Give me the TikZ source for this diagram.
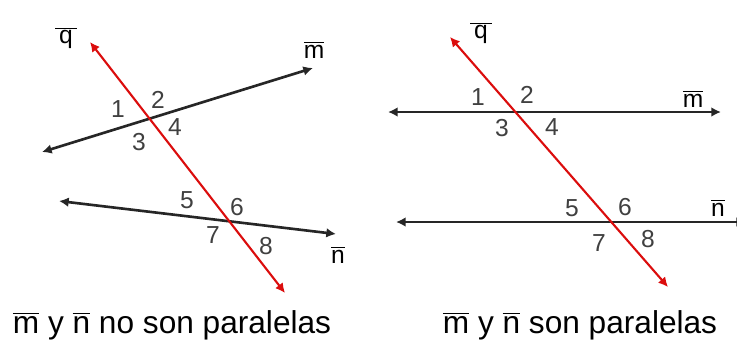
\documentclass[tikz,border=0pt]{standalone}
\usepackage{fontspec}
\setmainfont{Liberation Sans}
\usetikzlibrary{arrows.meta}

\begin{document}
\begin{tikzpicture}[
  x=0.02cm, y=-0.02cm,
  every node/.style={inner sep=0pt},
  blackline/.style={{Latex[length=5.5pt,width=5.5pt]}-{Latex[length=5.5pt,width=5.5pt]}, line width=1.5pt, black!85},
  redline/.style={{Latex[length=5.5pt,width=5.5pt]}-{Latex[length=5.5pt,width=5.5pt]}, line width=1.2pt, red!85!black!95},
  numlabel/.style={font=\fontsize{14}{16}\selectfont, text=black!75},
  letterlabel/.style={font=\fontsize{14}{16}\selectfont},
  caption/.style={font=\fontsize{18}{20}\selectfont}
]
\useasboundingbox (0,0) rectangle (737,339);

% left: lines not parallel
\coordinate (qLtop) at (90,42);
\coordinate (qLbot) at (285,293);
\coordinate (mLleft) at (42,152);
\coordinate (mLright) at (313,68);
\coordinate (nLleft) at (59,201);
\coordinate (nLright) at (336,234);
\draw[blackline] (mLleft) -- (mLright);
\draw[blackline] (nLleft) -- (nLright);
\draw[redline] (qLtop) -- (qLbot);

\node[letterlabel] (qL) at (66,38) {$\overline{\mbox{\,q\,}}$};
\node[letterlabel] (mL) at (314,50) {$\overline{\mbox{m}}$};
\node[letterlabel] (nL) at (338,255) {$\overline{\mbox{n}}$};

\node[numlabel] (a1) at (118,109) {1};
\node[numlabel] (a2) at (158,100) {2};
\node[numlabel] (a3) at (139,142) {3};
\node[numlabel] (a4) at (175,127) {4};
\node[numlabel] (a5) at (187,200) {5};
\node[numlabel] (a6) at (237,207) {6};
\node[numlabel] (a7) at (213,235) {7};
\node[numlabel] (a8) at (266,246) {8};

\node[caption] (capL) at (172,325) {$\overline{\mbox{m}}$ y $\overline{\mbox{n}}$ no son paralelas};

% right: parallel lines
\coordinate (qRtop) at (450,37);
\coordinate (qRbot) at (668,287);
\coordinate (mRleft) at (388,112);
\coordinate (mRright) at (721,112);
\coordinate (nRleft) at (396,222);
\coordinate (nRright) at (746,222);
\draw[blackline] (mRleft) -- (mRright);
\draw[blackline] (nRleft) -- (nRright);
\draw[redline] (qRtop) -- (qRbot);

\node[letterlabel] (qR) at (481,33) {$\overline{\mbox{\,q\,}}$};
\node[letterlabel] (mR) at (693,99) {$\overline{\mbox{m}}$};
\node[letterlabel] (nR) at (718,208) {$\overline{\mbox{n}}$};

\node[numlabel] (b1) at (478,97) {1};
\node[numlabel] (b2) at (527,95) {2};
\node[numlabel] (b3) at (502,128) {3};
\node[numlabel] (b4) at (552,127) {4};
\node[numlabel] (b5) at (572,208) {5};
\node[numlabel] (b6) at (625,207) {6};
\node[numlabel] (b7) at (599,243) {7};
\node[numlabel] (b8) at (648,239) {8};

\node[caption] (capR) at (580,325) {$\overline{\mbox{m}}$ y $\overline{\mbox{n}}$ son paralelas};
\end{tikzpicture}
\end{document}
